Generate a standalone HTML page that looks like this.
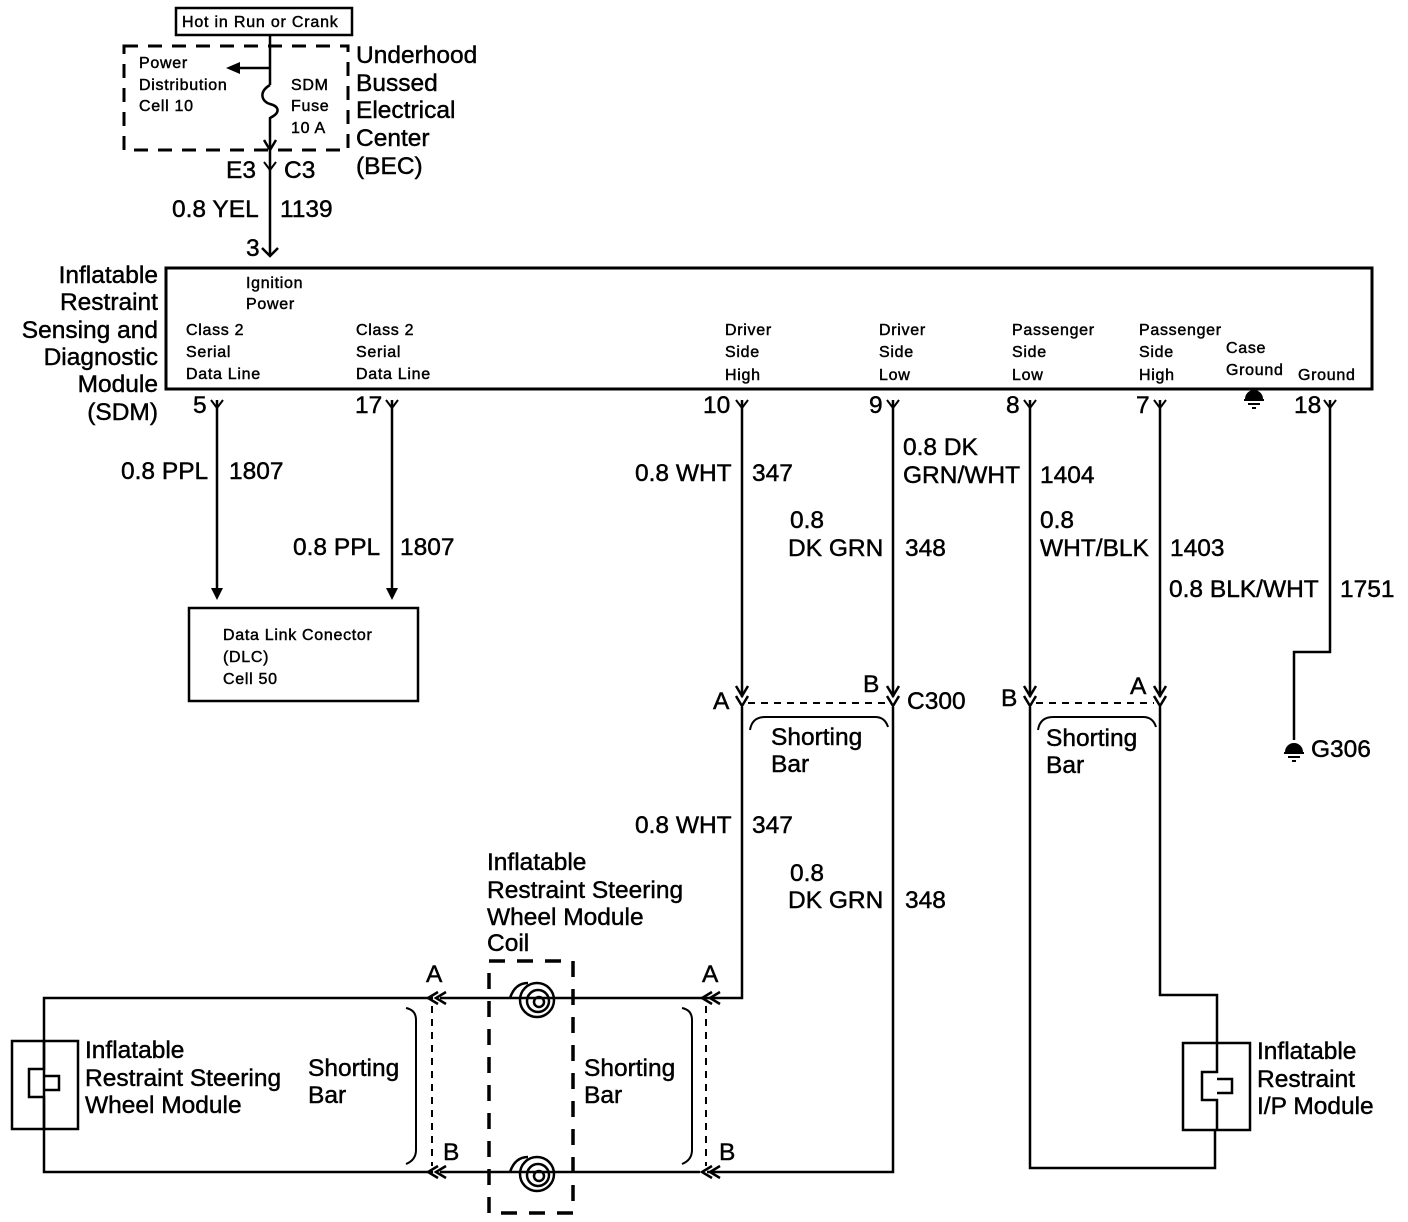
<!DOCTYPE html>
<html><head><meta charset="utf-8"><style>
html,body{margin:0;padding:0;background:#fff}
svg{display:block}
text{font-family:"Liberation Sans",sans-serif;fill:#000;stroke:#000;stroke-width:0.45}
.L{font-size:24.5px}
.S{font-size:16px;letter-spacing:0.8px}
.m{font-size:16px;letter-spacing:0.7px}
</style></head><body>
<svg width="1408" height="1222" viewBox="0 0 1408 1222" xmlns="http://www.w3.org/2000/svg">
<defs>
<g id="pinY"><path d="M-6,-8 L0,0 L6,-8 M0,0 V8" fill="none" stroke="#000" stroke-width="2"/></g>
<g id="arr"><path d="M-6,-12 L0,0 L6,-12 Z" fill="#000"/></g>
</defs>
<g fill="none" stroke="#000" stroke-width="2.5">
<rect x="176" y="8" width="176" height="27" stroke-width="2.5"/>
<rect x="124" y="46" width="224" height="104" stroke-dasharray="14,10" stroke-width="3"/>
<path d="M270,35 V68 M270,68 H234 M270,68 V85 M270,85 C258,92 262,102 270,104 C278,106 282,112 270,118 V145"/>
<path d="M270,145 V255 M262,248 L270,256 L278,248" />
<rect x="166" y="268" width="1206" height="121" stroke-width="3"/>
<path d="M217,400 V590 M392,400 V590"/>
<rect x="189" y="608" width="229" height="93"/>
<path d="M742,400 V697 M742,707 V998 H440 M433,998 H44 V1172 H433 M440,1172 H700 M707,1172 H893 V707 M893,697 V400"/>
<path d="M1030,400 V697 M1030,707 V1168 H1215 V1130 M1160,400 V697 M1160,707 V995 H1217 V1043"/>
<path d="M1330,400 V652 H1294 V740"/>
<path d="M748,703 H886 M1036,703 H1154" stroke-dasharray="7,6" stroke-width="2"/>
<path d="M750,730 Q752,717 765,717 H875 Q885,717 888,727" stroke-width="2"/>
<path d="M1038,730 Q1040,717 1053,717 H1143 Q1153,717 1156,727" stroke-width="2"/>
<path d="M432,1006 V1166 M706,1006 V1166" stroke-dasharray="7,6" stroke-width="2"/>
<path d="M406,1008 Q416,1010 416,1020 V1150 Q416,1160 406,1164" stroke-width="2"/>
<path d="M682,1008 Q692,1010 692,1020 V1150 Q692,1160 682,1164" stroke-width="2"/>
<rect x="489" y="961" width="84" height="252" stroke-dasharray="16,12" stroke-width="3.5"/>
<rect x="12" y="1041" width="66" height="88"/>
<rect x="1183" y="1043" width="67" height="87"/>
<path d="M1217,1043 V1072 H1202 V1100 H1217 V1130 M1217,1079 H1232 V1093 H1217"/>
<path d="M44,1040 V1069 H29 V1097 H44 V1128 M44,1076 H59 V1090 H44"/>
</g>
<g fill="none" stroke="#000" stroke-width="2.5">
<path d="M510,998 Q515,983 528,983"/>
<circle cx="537" cy="1000" r="17"/><circle cx="538" cy="1001" r="11"/><circle cx="539" cy="1002" r="5"/>
<path d="M510,1172 Q515,1157 528,1157"/>
<circle cx="537" cy="1174" r="17"/><circle cx="538" cy="1175" r="11"/><circle cx="539" cy="1176" r="5"/>
</g>
<path d="M226,68 L240,62 L240,74 Z" fill="#000"/>
<path d="M264,140 L270,150 L276,140" fill="none" stroke="#000" stroke-width="2.5"/>
<use href="#arr" x="217" y="600"/><use href="#arr" x="392" y="600"/>
<g fill="none" stroke="#000" stroke-width="2.5">
<path d="M736,686 L742,696 L748,686 M736,696 L742,706 L748,696"/>
<path d="M887,686 L893,696 L899,686 M887,696 L893,706 L899,696"/>
<path d="M1024,686 L1030,696 L1036,686 M1024,696 L1030,706 L1036,696"/>
<path d="M1154,686 L1160,696 L1166,686 M1154,696 L1160,706 L1166,696"/>
<path d="M438,992 L428,998 L438,1004 M446,992 L436,998 L446,1004"/>
<path d="M438,1166 L428,1172 L438,1178 M446,1166 L436,1172 L446,1178"/>
<path d="M712,992 L702,998 L712,1004 M720,992 L710,998 L720,1004"/>
<path d="M712,1166 L702,1172 L712,1178 M720,1166 L710,1172 L720,1178"/>
</g>
<g fill="none" stroke="#000" stroke-width="2"><path d="M264,162 L270,170 L276,162 M270,170 V178"/></g>
<use href="#pinY" x="217" y="408"/><use href="#pinY" x="392" y="408"/><use href="#pinY" x="742" y="408"/>
<use href="#pinY" x="893" y="408"/><use href="#pinY" x="1030" y="408"/><use href="#pinY" x="1160" y="408"/>
<use href="#pinY" x="1330" y="408"/>
<g fill="#000" stroke="#000" stroke-width="2">
<path d="M1246,399 A8,8 0 0 1 1262,399 Z"/><path d="M1244,400 H1264 M1248,404 H1260 M1252,408 H1256" fill="none"/>
<path d="M1286,752 A8,8 0 0 1 1302,752 Z"/><path d="M1284,753 H1304 M1288,757 H1300 M1292,761 H1296" fill="none"/>
</g>
<text class="S" x="182" y="27">Hot in Run or Crank</text>
<text class="m" x="139" y="68">Power</text>
<text class="m" x="139" y="90">Distribution</text>
<text class="m" x="139" y="111">Cell 10</text>
<text class="m" x="291" y="90">SDM</text>
<text class="m" x="291" y="111">Fuse</text>
<text class="m" x="291" y="133">10 A</text>
<text class="L" x="356" y="63">Underhood</text>
<text class="L" x="356" y="91">Bussed</text>
<text class="L" x="356" y="118">Electrical</text>
<text class="L" x="356" y="146">Center</text>
<text class="L" x="356" y="174">(BEC)</text>
<text class="L" x="226" y="178">E3</text>
<text class="L" x="284" y="178">C3</text>
<text class="L" x="172" y="217">0.8 YEL</text>
<text class="L" x="280" y="217">1139</text>
<text class="L" x="246" y="256">3</text>
<g class="L" text-anchor="end">
<text x="158" y="283">Inflatable</text><text x="158" y="310">Restraint</text><text x="158" y="338">Sensing and</text>
<text x="158" y="365">Diagnostic</text><text x="158" y="392">Module</text><text x="158" y="420">(SDM)</text>
</g>
<text class="m" x="246" y="288">Ignition</text><text class="m" x="246" y="309">Power</text>
<text class="m" x="186" y="335">Class 2</text><text class="m" x="186" y="357">Serial</text><text class="m" x="186" y="379">Data Line</text>
<text class="m" x="356" y="335">Class 2</text><text class="m" x="356" y="357">Serial</text><text class="m" x="356" y="379">Data Line</text>
<text class="m" x="725" y="335">Driver</text><text class="m" x="725" y="357">Side</text><text class="m" x="725" y="380">High</text>
<text class="m" x="879" y="335">Driver</text><text class="m" x="879" y="357">Side</text><text class="m" x="879" y="380">Low</text>
<text class="m" x="1012" y="335">Passenger</text><text class="m" x="1012" y="357">Side</text><text class="m" x="1012" y="380">Low</text>
<text class="m" x="1139" y="335">Passenger</text><text class="m" x="1139" y="357">Side</text><text class="m" x="1139" y="380">High</text>
<text class="m" x="1226" y="353">Case</text><text class="m" x="1226" y="375">Ground</text>
<text class="m" x="1298" y="380">Ground</text>
<text class="L" x="193" y="413">5</text><text class="L" x="355" y="413">17</text><text class="L" x="703" y="413">10</text>
<text class="L" x="869" y="413">9</text><text class="L" x="1006" y="413">8</text><text class="L" x="1136" y="413">7</text>
<text class="L" x="1294" y="413">18</text>
<text class="L" x="121" y="479">0.8 PPL</text><text class="L" x="229" y="479">1807</text>
<text class="L" x="293" y="555">0.8 PPL</text><text class="L" x="400" y="555">1807</text>
<text class="m" x="223" y="640">Data Link Conector</text><text class="m" x="223" y="662">(DLC)</text><text class="m" x="223" y="684">Cell 50</text>
<text class="L" x="635" y="481">0.8 WHT</text><text class="L" x="752" y="481">347</text>
<text class="L" x="790" y="528">0.8</text><text class="L" x="788" y="556">DK GRN</text><text class="L" x="905" y="556">348</text>
<text class="L" x="903" y="455">0.8 DK</text><text class="L" x="903" y="483">GRN/WHT</text><text class="L" x="1040" y="483">1404</text>
<text class="L" x="1040" y="528">0.8</text><text class="L" x="1040" y="556">WHT/BLK</text><text class="L" x="1170" y="556">1403</text>
<text class="L" x="1169" y="597">0.8 BLK/WHT</text><text class="L" x="1340" y="597">1751</text>
<text class="L" x="713" y="709">A</text><text class="L" x="863" y="692">B</text><text class="L" x="907" y="709">C300</text>
<text class="L" x="1001" y="706">B</text><text class="L" x="1130" y="694">A</text>
<text class="L" x="771" y="745">Shorting</text><text class="L" x="771" y="772">Bar</text>
<text class="L" x="1046" y="746">Shorting</text><text class="L" x="1046" y="773">Bar</text>
<text class="L" x="1311" y="757">G306</text>
<text class="L" x="635" y="833">0.8 WHT</text><text class="L" x="752" y="833">347</text>
<text class="L" x="790" y="881">0.8</text><text class="L" x="788" y="908">DK GRN</text><text class="L" x="905" y="908">348</text>
<text class="L" x="487" y="870">Inflatable</text><text class="L" x="487" y="898">Restraint Steering</text>
<text class="L" x="487" y="925">Wheel Module</text><text class="L" x="487" y="951">Coil</text>
<text class="L" x="426" y="982">A</text><text class="L" x="702" y="982">A</text>
<text class="L" x="443" y="1160">B</text><text class="L" x="719" y="1160">B</text>
<text class="L" x="308" y="1076">Shorting</text><text class="L" x="308" y="1103">Bar</text>
<text class="L" x="584" y="1076">Shorting</text><text class="L" x="584" y="1103">Bar</text>
<text class="L" x="85" y="1058">Inflatable</text><text class="L" x="85" y="1086">Restraint Steering</text><text class="L" x="85" y="1113">Wheel Module</text>
<text class="L" x="1257" y="1059">Inflatable</text><text class="L" x="1257" y="1087">Restraint</text><text class="L" x="1257" y="1114">I/P Module</text>
</svg>
</body></html>
